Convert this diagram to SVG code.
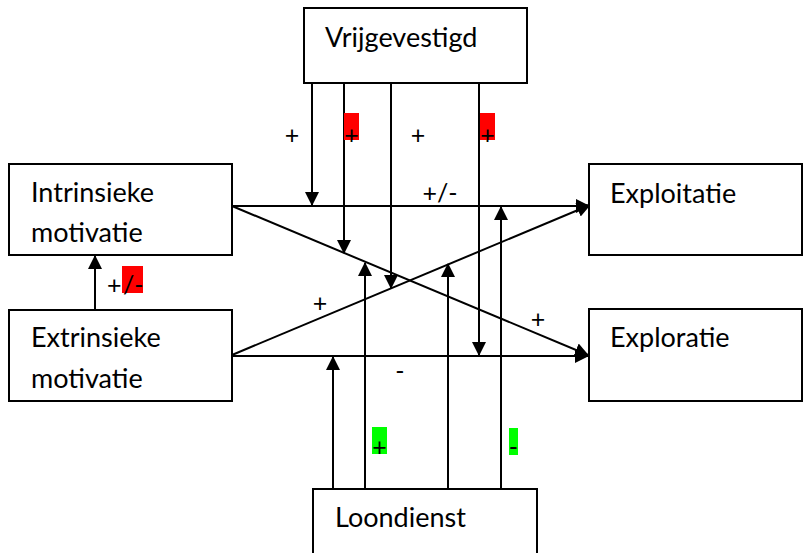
<svg xmlns="http://www.w3.org/2000/svg" width="803" height="553" viewBox="0 0 803 553">
<defs>
<marker id="ah" markerUnits="userSpaceOnUse" markerWidth="14" markerHeight="14" viewBox="0 0 14 14" refX="13" refY="7" orient="auto">
<path d="M0,0 L14,7 L0,14 Z" fill="#000"/>
</marker>
</defs>
<style>
.box{fill:#fff;stroke:#000;stroke-width:2}
.t{font-family:Lato,"Open Sans",sans-serif;font-size:27px;fill:#000}
.l{font-family:Lato,"Open Sans",sans-serif;font-size:25px;fill:#000}
.c line{stroke:#000;stroke-width:2;marker-end:url(#ah)}
</style>
<rect width="803" height="553" fill="#fff"/>
<g id="connectors" class="c">
<line x1="232" y1="206" x2="589" y2="206"/>
<line x1="232" y1="206" x2="588" y2="355"/>
<line x1="232" y1="356" x2="588" y2="356"/>
<line x1="232" y1="355" x2="590" y2="205"/>
<line x1="95" y1="310" x2="95" y2="256"/>
<line x1="312" y1="83" x2="312" y2="205"/>
<line x1="344" y1="83" x2="344" y2="253"/>
<line x1="391" y1="83" x2="391" y2="288"/>
<line x1="479" y1="83" x2="479" y2="355"/>
<line x1="333" y1="489" x2="333" y2="357"/>
<line x1="365" y1="489" x2="365" y2="263"/>
<line x1="448" y1="489" x2="448" y2="264"/>
<line x1="501" y1="489" x2="501" y2="207"/>
</g>
<g id="labels">
<text class="l" x="292" y="144" text-anchor="middle">+</text>
<rect x="344" y="113" width="15" height="27" fill="#f00"/>
<text class="l" x="351.5" y="144" text-anchor="middle">+</text>
<text class="l" x="418" y="144" text-anchor="middle">+</text>
<rect x="480" y="113" width="15" height="27" fill="#f00"/>
<text class="l" x="487.5" y="144" text-anchor="middle">+</text>
<text class="l" x="440" y="202" text-anchor="middle">+/-</text>
<text class="l" x="320" y="312" text-anchor="middle">+</text>
<text class="l" x="538" y="328" text-anchor="middle">+</text>
<text class="l" x="400" y="380" text-anchor="middle">-</text>
<text class="l" x="107" y="294">+</text>
<rect x="122" y="266" width="21" height="27" fill="#f00"/>
<text class="l" x="123" y="294">/-</text>
<rect x="372" y="427" width="15" height="27" fill="#0f0"/>
<text class="l" x="379.5" y="456" text-anchor="middle">+</text>
<rect x="509" y="428" width="9" height="27" fill="#0f0"/>
<text class="l" x="513.5" y="456" text-anchor="middle">-</text>
</g>
<g id="vrijgevestigd">
<rect class="box" x="304" y="8" width="223" height="75"/>
<text class="t" x="325" y="47">Vrijgevestigd</text>
</g>
<g id="intrinsieke">
<rect class="box" x="9" y="164" width="223" height="91"/>
<text class="t" x="31" y="202">Intrinsieke</text>
<text class="t" x="31" y="242">motivatie</text>
</g>
<g id="extrinsieke">
<rect class="box" x="9" y="310" width="223" height="91"/>
<text class="t" x="31" y="347">Extrinsieke</text>
<text class="t" x="31" y="388">motivatie</text>
</g>
<g id="exploitatie">
<rect class="box" x="589" y="164" width="213" height="91"/>
<text class="t" x="610" y="203">Exploitatie</text>
</g>
<g id="exploratie">
<rect class="box" x="589" y="309" width="213" height="92"/>
<text class="t" x="610" y="347">Exploratie</text>
</g>
<g id="loondienst">
<rect class="box" x="313" y="489" width="224" height="70"/>
<text class="t" x="335" y="527">Loondienst</text>
</g>
</svg>
